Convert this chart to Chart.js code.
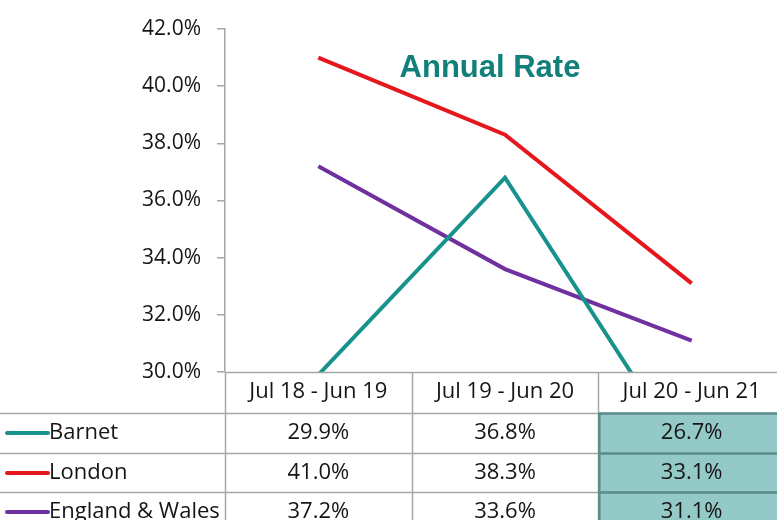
<!DOCTYPE html>
<html>
<head>
<meta charset="utf-8">
<script src="https://cdn.jsdelivr.net/npm/chart.js@4"></script>
<style>
html,body{margin:0;padding:0;background:#fff;overflow:hidden;}
#wrap{width:777px;height:520px;overflow:hidden;position:relative;}
#c{display:block;}
</style>
</head>
<body>
<div id="wrap"><canvas id="c" width="785" height="520"></canvas></div>
<script>
const categories = ["Jul 18 - Jun 19", "Jul 19 - Jun 20", "Jul 20 - Jun 21"];
const seriesNames = ["Barnet", "London", "England & Wales"];
const barnet = [29.9, 36.8, 26.7];
const london = [41.0, 38.3, 33.1];
const englandWales = [37.2, 33.6, 31.1];
const seriesColors = ["#17928c", "#e5161c", "#7030a0"];
const chartTitle = "Annual Rate";
const yMin = 30, yMax = 42, yStep = 2;

const FONT = "'Open Sans', 'Liberation Sans', sans-serif";
const seriesValues = [barnet, london, englandWales];

const tablePlugin = {
  id: 'tablePlugin',
  afterDraw(chart) {
    const ctx = chart.ctx;
    const x = chart.scales.x;
    const area = chart.chartArea;
    const n = categories.length;
    const colW = (area.right - area.left) / n;
    const rowH = 40;
    const headerTop = area.bottom;
    const rowTops = [413, 453, 492];
    ctx.save();
    // shaded last column
    const lastLeft = x.getPixelForValue(n - 1) - colW / 2;
    ctx.fillStyle = "#93c9c7";
    ctx.fillRect(lastLeft, rowTops[0], colW + 10, 520 - rowTops[0]);
    // grid lines
    ctx.strokeStyle = "#a6a6a6";
    ctx.lineWidth = 1.5;
    ctx.beginPath();
    ctx.moveTo(area.left, headerTop + 0.5);
    ctx.lineTo(area.right, headerTop + 0.5);
    rowTops.forEach(t => { ctx.moveTo(0, t + 0.5); ctx.lineTo(area.right, t + 0.5); });
    for (let i = 0; i <= n; i++) {
      const bx = area.left + i * colW;
      ctx.moveTo(Math.round(bx) + 0.5, headerTop);
      ctx.lineTo(Math.round(bx) + 0.5, 520);
    }
    ctx.stroke();
    // dark borders on shaded column
    ctx.strokeStyle = "#5a8c8a";
    ctx.lineWidth = 2.5;
    ctx.beginPath();
    ctx.moveTo(lastLeft + 1, rowTops[0]);
    ctx.lineTo(lastLeft + 1, 520);
    rowTops.forEach(t => { ctx.moveTo(lastLeft, t + 0.5); ctx.lineTo(area.right, t + 0.5); });
    ctx.stroke();
    // header text
    ctx.fillStyle = "#151515";
    ctx.font = "22px " + FONT;
    ctx.textAlign = "center";
    ctx.textBaseline = "middle";
    categories.forEach((c, i) => {
      ctx.fillText(c, x.getPixelForValue(i), headerTop + 20);
    });
    // rows
    seriesNames.forEach((name, r) => {
      const cy = rowTops[r] + rowH / 2;
      ctx.strokeStyle = seriesColors[r];
      ctx.lineWidth = 4;
      ctx.lineCap = "round";
      ctx.beginPath();
      ctx.moveTo(7, cy);
      ctx.lineTo(48, cy);
      ctx.stroke();
      ctx.fillStyle = "#151515";
      ctx.textAlign = "left";
      ctx.fillText(name, 49, cy);
      ctx.textAlign = "center";
      seriesValues[r].forEach((v, i) => {
        ctx.fillText(v.toFixed(1) + "%", x.getPixelForValue(i), cy);
      });
    });
    // title
    ctx.fillStyle = "#117f7a";
    ctx.font = "bold 31px 'Liberation Sans', Arial, sans-serif";
    ctx.textAlign = "center";
    ctx.textBaseline = "alphabetic";
    ctx.fillText(chartTitle, 490, 77);
    ctx.restore();
  }
};

new Chart(document.getElementById('c'), {
  type: 'line',
  data: {
    labels: categories,
    datasets: seriesNames.map((name, i) => ({
      label: name,
      data: seriesValues[i],
      borderColor: seriesColors[i],
      backgroundColor: seriesColors[i],
      borderWidth: 4,
      pointRadius: 0,
      tension: 0,
      fill: false
    }))
  },
  options: {
    responsive: false,
    animation: false,
    layout: { padding: { top: 29, bottom: 148, left: 0, right: 0 } },
    plugins: { legend: { display: false }, tooltip: { enabled: false }, title: { display: false } },
    scales: {
      x: { type: 'category', offset: true, display: false },
      y: {
        min: yMin, max: yMax,
        afterFit(scale) { scale.width = 225; },
        ticks: {
          stepSize: yStep,
          padding: 16,
          color: "#151515",
          font: { family: FONT, size: 21 },
          callback: v => v.toFixed(1) + "%"
        },
        grid: { drawOnChartArea: false, drawTicks: true, tickLength: 8, color: "#a6a6a6", lineWidth: 1.5 },
        border: { display: true, color: "#a6a6a6", width: 1.5 }
      }
    }
  },
  plugins: [tablePlugin]
});
</script>
</body>
</html>
